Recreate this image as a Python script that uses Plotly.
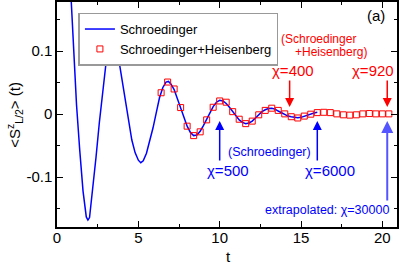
import plotly.graph_objects as go

# Schroedinger (line)
t_line = [0.0, 0.2, 0.4, 0.6, 0.8, 1.0, 1.2, 1.4, 1.6, 1.8, 1.9, 2.0, 2.2, 2.4, 2.6, 2.8,
          3.0, 3.2, 3.4, 3.5, 3.6, 3.8, 4.0, 4.2, 4.4, 4.6, 4.8, 5.0, 5.15, 5.3, 5.5, 5.7,
          5.9, 6.1, 6.3, 6.5, 6.7, 6.85, 7.0, 7.2, 7.4, 7.6, 7.8, 8.0, 8.2, 8.4, 8.6, 8.8,
          9.0, 9.2, 9.4, 9.6, 9.8, 10.0, 10.2, 10.4, 10.6, 10.8, 11.0, 11.2, 11.4, 11.6,
          11.8, 12.0, 12.2, 12.4, 12.6, 12.8, 13.0, 13.2, 13.4, 13.6, 13.8, 14.0, 14.2,
          14.4, 14.6, 14.8, 15.0, 15.2, 15.4, 15.6, 15.8, 16.0]
s_line = [0.5, 0.48, 0.42, 0.32, 0.2, 0.1, 0.015, -0.058, -0.122, -0.163, -0.168, -0.164,
          -0.12, -0.068, -0.014, 0.038, 0.078, 0.104, 0.116, 0.118, 0.114, 0.086, 0.054,
          0.018, -0.014, -0.041, -0.061, -0.073, -0.077, -0.074, -0.062, -0.044, -0.022,
          0.002, 0.026, 0.042, 0.051, 0.052, 0.048, 0.039, 0.025, 0.0095, -0.006, -0.019,
          -0.029, -0.034, -0.033, -0.027, -0.018, -0.008, 0.002, 0.012, 0.019, 0.022, 0.021,
          0.017, 0.011, 0.004, -0.003, -0.009, -0.013, -0.015, -0.014, -0.011, -0.006,
          -0.001, 0.004, 0.007, 0.009, 0.0095, 0.008, 0.005, 0.002, 0.0, -0.003, -0.004,
          -0.005, -0.0055, -0.005, -0.003, -0.001, 0.0, 0.002, 0.003]

# Schroedinger+Heisenberg (squares)
t_sq = [6.4, 6.8, 7.2, 7.6, 8.0, 8.4, 8.8, 9.2, 9.6, 10.0, 10.4, 10.8, 11.2, 11.6, 12.0,
        12.4, 12.8, 13.2, 13.6, 14.0, 14.4, 14.8, 15.2, 15.6, 16.0, 16.4, 16.8, 17.2, 17.6,
        18.0, 18.4, 18.8, 19.2, 19.6, 20.0, 20.4]
s_sq = [0.034, 0.051, 0.040, 0.0105, -0.019, -0.034, -0.028, -0.009, 0.011, 0.021, 0.019,
        0.004, -0.008, -0.015, -0.011, -0.001, 0.006, 0.0095, 0.006, 0.0005, -0.004, -0.006,
        -0.003, 0.0, 0.0025, 0.003, 0.0025, 0.0005, -0.001, -0.0015, -0.001, 0.0005, 0.001,
        0.0005, 0.0005, 0.0005]

x_ticks = [0, 5, 10, 15, 20]
y_ticks = [-0.1, 0, 0.1]
y_tick_labels = ["-0.1", "0", "0.1"]

FONT = "Liberation Sans, Arial, sans-serif"
BLUE = "#0000ff"
RED = "#ff0000"

fig = go.Figure()
fig.add_trace(go.Scatter(x=t_line, y=s_line, mode="lines", name="Schroedinger",
                         line=dict(color=BLUE, width=1.5)))
fig.add_trace(go.Scatter(x=t_sq, y=s_sq, mode="markers", name="Schroedinger+Heisenberg",
                         marker=dict(symbol="square-open", size=6, color=RED,
                                     line=dict(width=1))))

ax_common = dict(showline=True, linecolor="black", linewidth=1.5, mirror="ticks",
                 ticks="inside", ticklen=6, tickwidth=1.2, tickcolor="black",
                 showgrid=False, zeroline=False, automargin=False,
                 tickfont=dict(family=FONT, size=15, color="black"))

fig.update_xaxes(range=[0, 20.9], tickvals=x_ticks, ticklabelstandoff=-4,
                 minor=dict(dtick=2.5, ticks="inside", ticklen=3, tickcolor="black"),
                 **ax_common)
fig.update_yaxes(range=[-0.179, 0.178], tickvals=y_ticks, ticktext=y_tick_labels,
                 minor=dict(dtick=0.05, tick0=0, ticks="inside", ticklen=3, tickcolor="black"),
                 **ax_common)

anns = []
def txt(x, y, text, color, size):
    anns.append(dict(x=x, y=y, xref="x", yref="y", text=text, showarrow=False,
                     xanchor="center", yanchor="middle",
                     font=dict(family=FONT, size=size, color=color)))

def arrow(x, y, ay, color, width=1.5):
    anns.append(dict(x=x, y=y, xref="x", yref="y", ax=0, ay=ay, text="",
                     showarrow=True, arrowhead=2, arrowsize=1.2, arrowwidth=width,
                     arrowcolor=color))

# axis titles
anns.append(dict(x=0.503, y=-0.133, xref="paper", yref="paper", text="t", showarrow=False,
                 xanchor="center", yanchor="middle",
                 font=dict(family=FONT, size=15, color="black")))
anns.append(dict(x=-0.124, y=0.498, xref="paper", yref="paper", textangle=-90,
                 xanchor="center", yanchor="middle",
                 text="&lt;S<sup>z</sup><sub>L/2</sub>&gt; (t)", showarrow=False,
                 font=dict(family=FONT, size=15, color="black")))

txt(19.6, 0.157, "(a)", "black", 15)
txt(16.1, 0.1195, "(Schroedinger", RED, 12)
txt(16.85, 0.0985, "+Heisenberg)", RED, 12)
txt(14.5, 0.069, "χ=400", RED, 15)
txt(19.4, 0.069, "χ=920", RED, 15)
arrow(14.3, 0.0115, -28, RED)
arrow(20.3, 0.0115, -28, RED)

txt(13.05, -0.060, "(Schroedinger)", BLUE, 12.5)
txt(10.5, -0.089, "χ=500", BLUE, 15)
txt(16.8, -0.089, "χ=6000", BLUE, 15)
txt(16.6, -0.152, "extrapolated: χ=30000", BLUE, 12.5)
arrow(10.0, -0.011, 41, BLUE)
arrow(16.0, -0.011, 41, BLUE)
arrow(20.3, -0.011, 81, "#5555ff", width=2)

fig.update_layout(
    width=399, height=267,
    margin=dict(l=57, r=2, t=2, b=40, autoexpand=False),
    paper_bgcolor="white", plot_bgcolor="white",
    font=dict(family=FONT, color="black"),
    annotations=anns,
    showlegend=True,
    legend=dict(x=0.063, y=0.953, xanchor="left", yanchor="top",
                bgcolor="white", bordercolor="#999999", borderwidth=1.5,
                font=dict(family=FONT, size=13, color="black"),
                tracegroupgap=0, itemwidth=30),
)

fig.write_html("out.html", config={"displayModeBar": False},
               post_script="document.body.style.margin='0';document.body.style.overflow='hidden';")
